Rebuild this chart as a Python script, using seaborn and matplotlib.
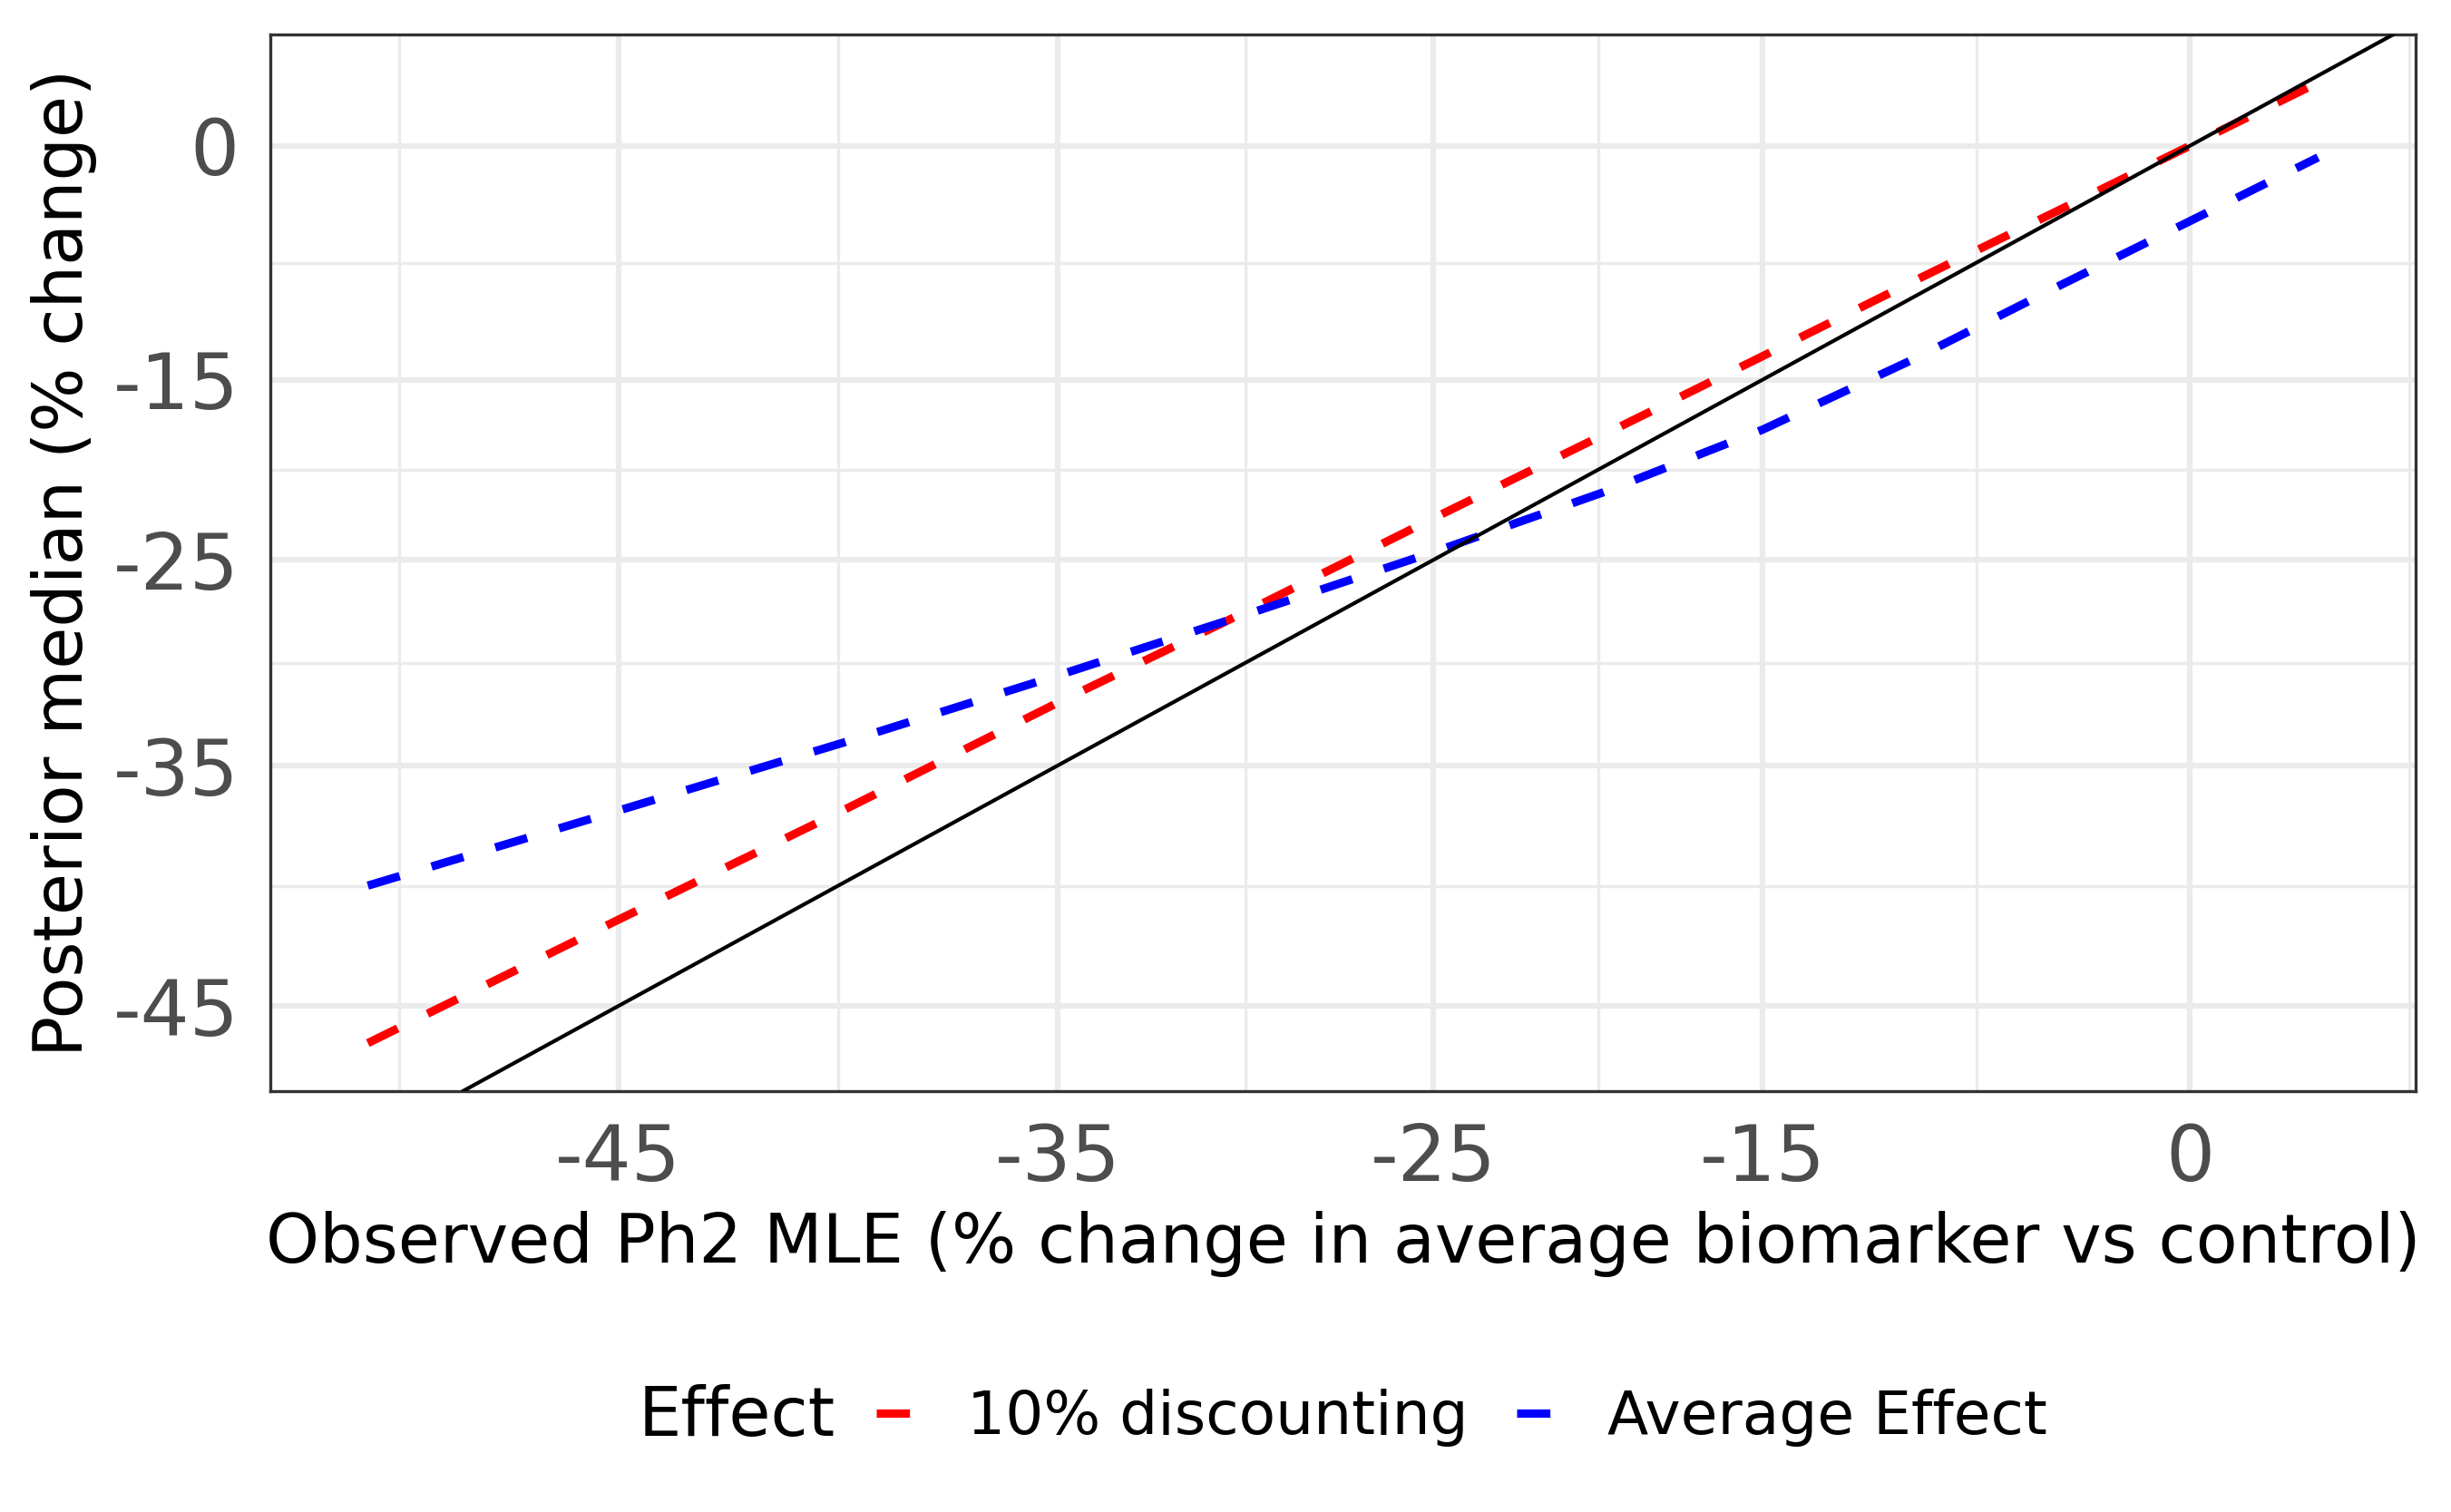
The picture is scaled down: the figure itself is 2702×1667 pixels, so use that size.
import numpy as np
import pandas as pd
import seaborn as sns
import matplotlib.pyplot as plt
from matplotlib.lines import Line2D

# values (percent change)
mle = [-50, -45, -40, -35, -30, -25, -20, -15, -10, -5, 0, 5]
post_discount = [-46.4, -41.6, -36.9, -32.1, -27.5, -22.8, -18.2, -13.6, -9.0, -4.5, 0.0, 4.5]
post_average = [-40.2, -37.0, -33.9, -30.8, -27.7, -24.6, -21.4, -17.9, -13.8, -9.4, -5.1, -0.8]
effects = ['10% discounting', 'Average Effect']
colors = ['red', 'blue']
x_ticks = [-45, -35, -25, -15, 0]
y_ticks = [-45, -35, -25, -15, 0]

df = pd.DataFrame({
    'mle': mle + mle,
    'post': post_discount + post_average,
    'Effect': [effects[0]] * len(mle) + [effects[1]] * len(mle),
})


# axes are on the log-ratio scale: log(1 + pct/100)
def fwd(v):
    with np.errstate(invalid='ignore', divide='ignore'):
        return np.log1p(np.asarray(v, dtype=float) / 100)


def inv(u):
    return np.expm1(np.asarray(u, dtype=float)) * 100


def minor_breaks(major, lo, hi):
    b = np.sort(fwd(major))
    step = b[1] - b[0]
    b = np.concatenate([[b[0] - step], b, [b[-1] + step]])
    mids = (b[:-1] + b[1:]) / 2
    mids = mids[(mids > lo) & (mids < hi)]
    return inv(mids)


sns.set_theme(style='white')
plt.rcParams['font.family'] = ['DejaVu Sans']

W, H = 2702, 1667
fig = plt.figure(figsize=(W / 300, H / 300), dpi=300)
ax = fig.add_axes([298 / W, 1 - 1203 / H, (2663 - 298) / W, (1203 - 38) / H])
ax.set_xscale('function', functions=(fwd, inv))
ax.set_yscale('function', functions=(fwd, inv))

sns.lineplot(data=df, x='mle', y='post', hue='Effect', style='Effect',
             palette=dict(zip(effects, colors)),
             dashes={e: (4, 4) for e in effects},
             linewidth=2.2, estimator=None, sort=False, legend=False, ax=ax)
ax.axline((-40, -40), (0, 0), color='black', lw=1.0, zorder=3)

ax.margins(0.05)
ax.autoscale_view()
xlo, xhi = ax.get_xlim()
ylo, yhi = ax.get_ylim()
ax.set_xlim(xlo, xhi)
ax.set_ylim(ylo, yhi)

ax.set_xticks(x_ticks)
ax.set_xticklabels([str(t) for t in x_ticks])
ax.set_yticks(y_ticks)
ax.set_yticklabels([str(t) for t in y_ticks])
ax.set_xticks(minor_breaks(x_ticks, fwd(xlo), fwd(xhi)), minor=True)
ax.set_yticks(minor_breaks(y_ticks, fwd(ylo), fwd(yhi)), minor=True)

ax.grid(which='major', color='#EBEBEB', lw=1.5)
ax.grid(which='minor', color='#EBEBEB', lw=0.8)
ax.set_axisbelow(True)
ax.tick_params(which='major', direction='out', length=4.8, width=1.5,
               color='#333333', labelsize=20.4, labelcolor='#4D4D4D', pad=3.4)
ax.tick_params(which='minor', length=0)
ax.tick_params(axis='y', which='major', pad=3.5)
for s in ax.spines.values():
    s.set_visible(True)
    s.set_color('#333333')
    s.set_linewidth(0.8)

ax.set_xlabel('Observed Ph2 MLE (% change in average biomarker vs control)',
              fontsize=18, color='black')
ax.set_ylabel('Posterior median (% change)', fontsize=18, color='black')
ax.xaxis.set_label_coords(0.5, -0.1133)
ax.yaxis.set_label_coords(-0.0808, 0.5)

# legend: title on the left, one dash per key
fig.text((711 - 7) / W, 1 - 1583 / H, 'Effect', fontsize=18,
         ha='left', va='baseline', color='black')
handles = [Line2D([], [], color=c, lw=2.2, dashes=(4, 4)) for c in colors]
fig.legend(handles, effects, loc='center left',
           bbox_to_anchor=(966 / W, 1 - 1563 / H), ncol=2, frameon=False,
           fontsize=15.9, labelcolor='black', handlelength=0.56,
           handletextpad=0.95, columnspacing=0.8, borderpad=0, borderaxespad=0)

fig.savefig('out.png', dpi=300)
